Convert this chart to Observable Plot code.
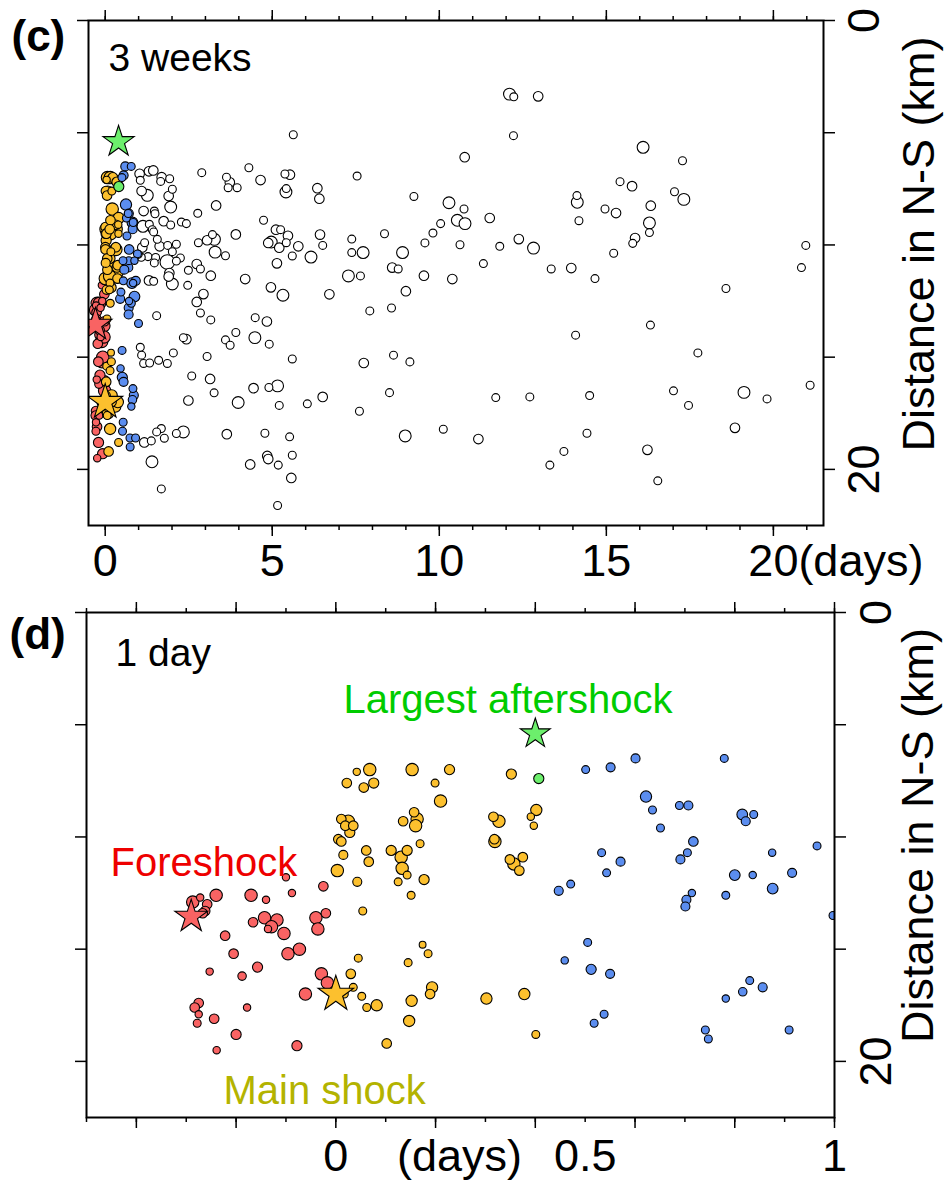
<!DOCTYPE html>
<html><head><meta charset="utf-8">
<script src="https://cdn.jsdelivr.net/npm/d3@7"></script>
<script src="https://cdn.jsdelivr.net/npm/@observablehq/plot@0.6"></script>
<style>
body{margin:0;background:#fff;font-family:"Liberation Sans",Arial,sans-serif;}
#chart{width:944px;height:1187px;overflow:hidden;}
#chart svg{display:block;}
</style></head><body><div id="chart"></div>
<script>
// ---- data: [days since main shock, N-S distance (km), magnitude class] ----
const foreshocks = [[-0.240,12.6,2],[-0.272,12.7,1.1],[-0.287,12.9,2],[-0.258,13.0,1.5],[-0.262,13.3,1.5],[-0.267,13.4,1.5],[-0.170,12.6,2],[-0.140,12.8,1.1],[-0.088,12.5,1.1],[-0.025,12.2,1.5],[-0.100,11.8,1.1],[-0.143,13.6,2],[-0.166,13.8,1.5],[-0.118,13.7,2],[-0.129,14.0,2],[-0.136,14.1,1.1],[-0.104,14.3,2],[-0.040,13.6,2],[-0.020,13.4,1.5],[-0.036,14.1,2],[-0.222,14.4,1.5],[-0.205,15.2,1.5],[-0.096,15.2,2],[-0.073,15.0,2],[-0.253,16.0,1.1],[-0.188,16.2,1.3],[-0.157,15.8,1.6],[-0.029,16.1,2],[-0.017,16.5,2],[-0.061,17.0,2],[-0.275,17.4,1.5],[-0.283,17.6,1.5],[-0.275,17.9,1.1],[-0.278,18.3,1.2],[-0.244,18.1,1.5],[-0.178,17.6,1.1],[-0.200,18.8,1.6],[-0.239,19.5,1.1],[-0.078,19.3,1.6]];
const earlyAftershocks = [[0.068,7.0,2],[0.042,7.1,1.1],[0.022,7.6,1.5],[0.056,7.8,1.5],[0.076,7.6,1.6],[0.153,7.0,2],[0.228,7.0,1.6],[0.199,7.6,1.2],[0.210,8.4,2],[0.352,7.2,1.6],[0.402,8.8,1.8],[0.391,9.1,1.1],[0.397,9.5,1.1],[0.316,9.1,1.5],[0.327,9.3,2],[0.318,10.1,1.5],[0.319,10.2,2],[0.349,11.0,1.5],[0.357,11.2,2],[0.368,11.5,1.5],[0.375,10.9,1.5],[0.011,9.2,1.5],[0.025,9.3,2],[0.019,9.5,1.5],[0.035,9.5,1.5],[0.028,9.8,1.6],[0.005,10.1,1.5],[0.011,10.2,1.5],[0.015,10.8,1.4],[0.003,11.5,2],[0.043,12.0,1.4],[0.061,10.6,1.5],[0.066,11.1,1.5],[0.157,8.9,1.5],[0.163,9.2,2],[0.160,9.5,2],[0.135,9.3,1.5],[0.169,10.3,1.2],[0.111,10.6,1.6],[0.131,10.9,2],[0.143,10.6,1.6],[0.133,11.4,2],[0.143,11.7,1.2],[0.125,12.0,1.2],[0.177,11.9,1.6],[0.151,12.6,1.2],[0.054,13.3,1.2],[0.045,15.4,1.2],[0.030,16.1,1.5],[0.035,16.7,1.2],[0.017,17.0,1.2],[0.052,17.1,1.2],[0.062,17.6,1.2],[0.082,17.5,1.8],[0.102,19.2,1.5],[0.145,15.6,1.2],[0.174,14.8,1.0],[0.185,15.2,1.2],[0.193,16.7,1.8],[0.189,17.0,1.5],[0.152,17.3,1.8],[0.147,18.2,1.8],[0.302,17.2,1.8],[0.378,17.0,1.8],[0.401,18.8,1.2]];
const lateAftershocks = [[0.501,7.0,1.2],[0.551,6.9,1.4],[0.601,6.5,1.4],[0.779,6.5,1.2],[0.622,8.2,1.8],[0.635,8.8,1.2],[0.689,8.6,1.2],[0.707,8.6,1.4],[0.651,9.6,1.2],[0.717,10.2,1.5],[0.705,10.7,1.2],[0.691,11.0,1.4],[0.815,9.0,1.7],[0.822,9.3,1.4],[0.838,9.0,1.2],[0.875,10.7,1.1],[0.965,10.4,1.2],[0.533,10.7,1.2],[0.571,11.1,1.4],[0.543,11.6,1.2],[0.800,11.7,1.7],[0.836,11.7,1.1],[0.915,11.6,1.4],[0.876,12.3,1.7],[0.447,12.4,1.4],[0.471,12.1,1.2],[0.703,12.8,1.4],[0.714,12.5,1.1],[0.701,13.1,1.4],[0.782,12.6,1.2],[0.997,13.5,1.2],[0.505,14.7,1.2],[0.459,15.5,1.1],[0.512,15.9,1.6],[0.550,16.1,1.4],[0.538,17.9,1.2],[0.518,18.3,1.2],[0.830,16.4,1.2],[0.856,16.7,1.4],[0.816,16.9,1.3],[0.782,17.2,1.1],[0.741,18.6,1.2],[0.747,19.0,1.2],[0.909,18.6,1.2]];
const laterEvents = [[5.63,5.09,1.2],[1.03,6.83,1.5],[1.31,6.72,1.5],[1.44,6.68,1.5],[1.69,6.98,1.5],[1.93,7.05,1.2],[1.05,7.12,1.2],[1.66,7.17,1.2],[2.01,7.52,1.2],[1.90,7.82,1.5],[1.09,7.60,1.5],[1.26,7.79,1.9],[2.89,6.78,1.2],[4.30,6.56,1.2],[3.63,6.98,1.2],[3.73,7.21,1.5],[3.68,7.45,1.2],[3.95,7.45,1.2],[4.65,7.11,1.5],[5.38,6.84,1.2],[5.53,6.87,1.5],[5.42,7.49,1.2],[5.41,7.64,1.9],[6.35,7.47,1.5],[6.41,7.94,1.5],[7.54,6.93,1.2],[9.24,7.84,1.2],[10.29,8.12,1.9],[10.76,6.09,1.5],[10.74,8.40,1.2],[10.54,8.90,1.9],[10.77,9.05,1.9],[10.04,9.05,1.2],[9.81,9.47,1.2],[9.57,9.91,1.2],[10.62,9.99,1.2],[8.36,9.50,1.2],[8.90,10.34,1.9],[8.59,11.01,1.5],[8.77,11.07,1.2],[9.54,11.37,1.5],[10.39,11.52,1.5],[9.00,12.06,1.5],[7.28,11.38,1.9],[7.64,11.38,1.2],[7.38,9.74,1.2],[7.38,10.34,1.2],[7.72,10.34,1.9],[6.71,12.20,1.5],[6.43,9.54,1.5],[6.51,10.02,1.2],[6.16,10.54,1.9],[5.78,10.06,1.5],[5.60,10.49,1.2],[5.47,9.59,1.5],[5.42,9.90,1.2],[5.11,9.32,1.5],[5.25,9.32,1.2],[4.97,9.87,1.9],[4.88,9.91,1.5],[5.21,10.12,1.5],[5.14,10.82,1.5],[4.74,8.90,1.2],[3.91,9.53,1.5],[4.96,11.89,1.5],[5.32,12.24,1.9],[4.19,11.52,1.5],[3.60,10.48,1.2],[3.29,10.32,1.9],[3.27,9.75,1.9],[3.21,9.54,1.2],[3.05,9.79,1.5],[2.79,9.90,1.2],[3.32,8.24,1.5],[2.77,8.59,1.2],[3.16,11.37,1.5],[2.94,12.19,1.5],[2.85,11.07,1.2],[2.74,10.85,1.5],[2.49,11.13,1.2],[2.47,11.80,1.2],[2.28,8.98,1.2],[2.43,9.05,1.2],[2.25,10.58,1.2],[1.96,8.31,1.9],[1.75,8.94,1.5],[1.96,9.11,1.2],[1.15,8.49,1.5],[1.47,8.49,1.2],[1.49,8.61,1.2],[1.13,9.17,1.9],[1.32,9.08,1.2],[1.41,9.32,1.2],[1.45,9.42,1.2],[1.18,9.90,1.2],[1.11,10.11,1.5],[1.56,9.75,1.2],[1.63,10.06,1.5],[1.87,10.02,1.2],[2.01,10.30,1.2],[1.86,10.76,2.4],[1.28,10.52,1.2],[1.51,10.56,1.2],[1.47,10.80,1.2],[2.13,10.72,1.2],[1.92,11.25,1.5],[1.90,11.41,1.5],[2.01,11.74,1.9],[1.31,11.58,1.5],[1.45,11.62,1.2],[1.08,10.55,1.2],[0.99,10.42,1.2],[2.13,9.97,1.2],[12.10,3.28,1.9],[12.23,3.40,1.2],[12.96,3.38,1.5],[12.22,5.13,1.2],[16.10,5.65,1.9],[17.28,6.25,1.2],[15.41,7.18,1.2],[15.77,7.38,1.5],[17.04,7.63,1.2],[17.32,7.97,1.9],[14.12,7.80,1.2],[14.13,8.10,1.9],[14.18,8.92,1.2],[14.96,8.40,1.2],[15.29,8.58,1.5],[16.33,8.25,1.5],[16.29,9.02,1.9],[16.29,9.45,1.2],[15.86,9.69,1.5],[15.79,9.93,1.2],[15.22,10.37,1.2],[11.51,8.80,1.5],[11.81,10.06,1.2],[12.38,9.74,1.5],[12.82,10.14,1.9],[11.32,10.83,1.2],[13.35,11.07,1.2],[13.95,11.03,1.5],[14.66,11.50,1.2],[18.58,11.94,1.2],[20.97,10.02,1.2],[20.84,11.01,1.2],[16.32,13.57,1.2],[14.08,14.02,1.2],[17.74,14.81,1.2],[21.10,16.25,1.2],[17.01,16.50,1.2],[19.12,16.57,1.9],[19.81,16.86,1.2],[17.46,17.15,1.2],[11.69,16.80,1.2],[12.71,16.77,1.2],[14.50,16.71,1.2],[11.17,18.65,1.5],[14.42,18.39,1.2],[13.73,19.20,1.2],[13.31,19.81,1.2],[16.23,19.13,1.5],[16.54,20.51,1.2],[18.85,18.15,1.5],[2.74,12.54,1.5],[2.85,13.03,1.2],[3.16,13.34,1.2],[1.54,13.15,1.2],[4.49,13.24,1.2],[4.84,13.41,1.5],[7.92,12.94,1.2],[8.57,12.81,1.2],[2.34,14.13,1.2],[2.43,14.20,1.5],[3.91,13.90,1.2],[3.60,14.23,1.2],[3.74,14.47,1.2],[4.48,14.13,1.9],[4.91,14.42,1.2],[1.05,14.56,1.2],[1.09,14.91,1.2],[2.04,14.81,1.2],[1.15,15.28,1.2],[1.33,15.26,1.2],[1.60,15.14,1.2],[1.86,15.28,1.2],[3.05,14.97,1.2],[5.60,15.08,1.2],[7.74,15.26,1.5],[8.63,14.91,1.2],[9.12,15.21,1.2],[2.59,15.84,1.2],[3.14,15.97,1.5],[3.26,16.59,1.2],[4.44,16.38,1.5],[4.90,16.35,1.2],[5.16,16.28,1.9],[2.49,16.93,1.5],[3.98,17.02,1.9],[5.21,17.15,1.2],[6.05,17.08,1.2],[6.51,16.77,1.5],[7.61,17.41,1.2],[8.51,16.58,1.2],[1.68,18.18,1.2],[1.54,18.33,1.2],[2.34,18.33,1.9],[2.13,18.40,1.2],[1.77,18.61,1.2],[1.38,18.73,1.2],[1.17,18.80,1.5],[3.64,18.43,1.5],[4.78,18.39,1.2],[5.52,18.55,1.2],[8.98,18.51,1.9],[10.12,18.21,1.2],[1.40,19.66,1.9],[1.68,20.87,1.2],[4.34,19.78,1.5],[4.85,19.40,1.5],[4.88,19.54,1.5],[5.18,19.81,1.2],[5.60,19.37,1.2],[5.57,20.38,1.5],[5.16,21.61,1.2]];
const largestAftershockEvent = [[0.407,7.4,1.6]];
const foreshockStar = [[-0.29,13.55]];
const mainShockStar = [[0.0,17.0]];
const largestAftershockStar = [[0.40,5.4]];

// ---- ticks and labels ----
const xMinorC = [0,1,2,3,4,5,6,7,8,9,10,11,12,13,14,15,16,17,18,19,20,21];
const xMajorC = [0,5,10,15,20];
const xLabelsC = [0,5,10,15,20];
const xMinorD = [-0.5,-0.4,-0.3,-0.2,-0.1,0,0.1,0.2,0.3,0.4,0.5,0.6,0.7,0.8,0.9,1.0];
const xMajorD = [-0.4,-0.2,0,0.2,0.4,0.6,0.8,1.0];
const xLabelsD = [0,0.5,1];
const yTicks = [0,5,10,15,20];
const yLabels = [0,20];

const FONT = '"Liberation Sans", Arial, sans-serif';
const COL = {fore:"#f96363", early:"#fcc02e", late:"#5b8def", largest:"#6cef6c", later:"#ffffff"};

function dots(data, fill) {
  return Plot.dot(data, {x: d => d[0], y: d => d[1], r: d => d[2], fill, stroke: "black", strokeWidth: 1.1, clip: true});
}
function star(data, fill, r) {
  return Plot.dot(data, {x: d => d[0], y: d => d[1], symbol: "star", r, fill, stroke: "black", strokeWidth: 1.1, clip: true});
}
function ticks(xMinor, xMajor) {
  const o = {fill: "none", label: null, strokeWidth: 1.5};
  return [
    Plot.axisX(xMinor, {...o, anchor: "bottom", tickSize: 5}),
    Plot.axisX(xMajor, {...o, anchor: "bottom", tickSize: 11}),
    Plot.axisX(xMinor, {...o, anchor: "top", tickSize: 5}),
    Plot.axisX(xMajor, {...o, anchor: "top", tickSize: 11}),
    Plot.axisY(yTicks, {...o, anchor: "left", tickSize: 11}),
    Plot.axisY(yTicks, {...o, anchor: "right", tickSize: 11})
  ];
}

const rScale = {type: "linear", domain: [1, 2.5], range: [3.4, 7.6]};

// ---- panel (c) ----
const c = Plot.plot({
  width: 944, height: 590,
  marginLeft: 88, marginRight: 121, marginTop: 20, marginBottom: 65,
  style: {fontFamily: FONT, background: "white", overflow: "visible"},
  x: {domain: [-0.5, 21.5]},
  y: {domain: [0, 22.5], reverse: true},
  r: rScale,
  marks: [
    ...ticks(xMinorC, xMajorC),
    dots(laterEvents, COL.later),
    dots(foreshocks, COL.fore),
    dots(earlyAftershocks, COL.early),
    dots(lateAftershocks, COL.late),
    dots(largestAftershockEvent, COL.largest),
    star(foreshockStar, COL.fore, 10.3),
    star(mainShockStar, COL.early, 11),
    star(largestAftershockStar, COL.largest, 9.8),
    Plot.frame({stroke: "black", strokeWidth: 2}),
    Plot.text(xLabelsC, {x: d => d, text: d => String(d), frameAnchor: "bottom", lineAnchor: "bottom", dy: 50, fontSize: 45, fill: "black"}),
    Plot.text(["(days)"], {x: () => xLabelsC[4], text: d => d, frameAnchor: "bottom", lineAnchor: "bottom", textAnchor: "start", dx: 25, dy: 50, fontSize: 45, fill: "black"}),
    Plot.text(yLabels, {y: d => d, text: d => String(d), frameAnchor: "right", textAnchor: "middle", dx: 41, rotate: -90, fontSize: 45, fill: "black"}),
    Plot.text(["Distance in N-S (km)"], {text: d => d, frameAnchor: "right", textAnchor: "middle", dx: 96, dy: -29, rotate: -90, fontSize: 45, fill: "black"}),
    Plot.text(["(c)"], {text: d => d, frameAnchor: "top-left", textAnchor: "start", lineAnchor: "bottom", dx: -77, dy: 30, fontSize: 44, fontWeight: "bold", fill: "black"}),
    Plot.text(["3 weeks"], {text: d => d, frameAnchor: "top-left", textAnchor: "start", lineAnchor: "bottom", dx: 20, dy: 50, fontSize: 39, fill: "black"})
  ]
});

// ---- panel (d) ----
const dPlot = Plot.plot({
  width: 944, height: 597,
  marginLeft: 86, marginRight: 110, marginTop: 22, marginBottom: 70,
  style: {fontFamily: FONT, background: "white", overflow: "visible"},
  x: {domain: [-0.5, 1.0]},
  y: {domain: [0, 22.5], reverse: true},
  r: rScale,
  marks: [
    ...ticks(xMinorD, xMajorD),
    dots(foreshocks, COL.fore),
    dots(earlyAftershocks, COL.early),
    dots(lateAftershocks, COL.late),
    dots(largestAftershockEvent, COL.largest),
    star(foreshockStar, COL.fore, 10.3),
    star(mainShockStar, COL.early, 11.2),
    star(largestAftershockStar, COL.largest, 9.4),
    Plot.frame({stroke: "black", strokeWidth: 2}),
    Plot.text(xLabelsD, {x: d => d, text: d => String(d), frameAnchor: "bottom", lineAnchor: "bottom", dy: 53, fontSize: 45, fill: "black"}),
    Plot.text(["(days)"], {text: d => d, frameAnchor: "bottom", lineAnchor: "bottom", dx: -1, dy: 53, fontSize: 45, fill: "black"}),
    Plot.text(yLabels, {y: d => d, text: d => String(d), frameAnchor: "right", textAnchor: "middle", dx: 42, rotate: -90, fontSize: 45, fill: "black"}),
    Plot.text(["Distance in N-S (km)"], {text: d => d, frameAnchor: "right", textAnchor: "middle", dx: 84, dy: -29.5, rotate: -90, fontSize: 45, fill: "black"}),
    Plot.text(["(d)"], {text: d => d, frameAnchor: "top-left", textAnchor: "start", lineAnchor: "bottom", dx: -77, dy: 36, fontSize: 44, fontWeight: "bold", fill: "black"}),
    Plot.text(["1 day"], {text: d => d, frameAnchor: "top-left", textAnchor: "start", lineAnchor: "bottom", dx: 29, dy: 53, fontSize: 39, fill: "black"}),
    Plot.text(["Largest aftershock"], {text: d => d, frameAnchor: "top-left", textAnchor: "start", lineAnchor: "bottom", dx: 257, dy: 100, fontSize: 40, fill: "#00cc00"}),
    Plot.text(["Foreshock"], {text: d => d, frameAnchor: "top-left", textAnchor: "start", lineAnchor: "bottom", dx: 24, dy: 263, fontSize: 40, fill: "#ee0000"}),
    Plot.text(["Main shock"], {text: d => d, frameAnchor: "top-left", textAnchor: "start", lineAnchor: "bottom", dx: 137, dy: 491, fontSize: 40, fill: "#b3b300"})
  ]
});

const host = document.getElementById("chart");
host.appendChild(c);
host.appendChild(dPlot);
</script>
</body></html>
